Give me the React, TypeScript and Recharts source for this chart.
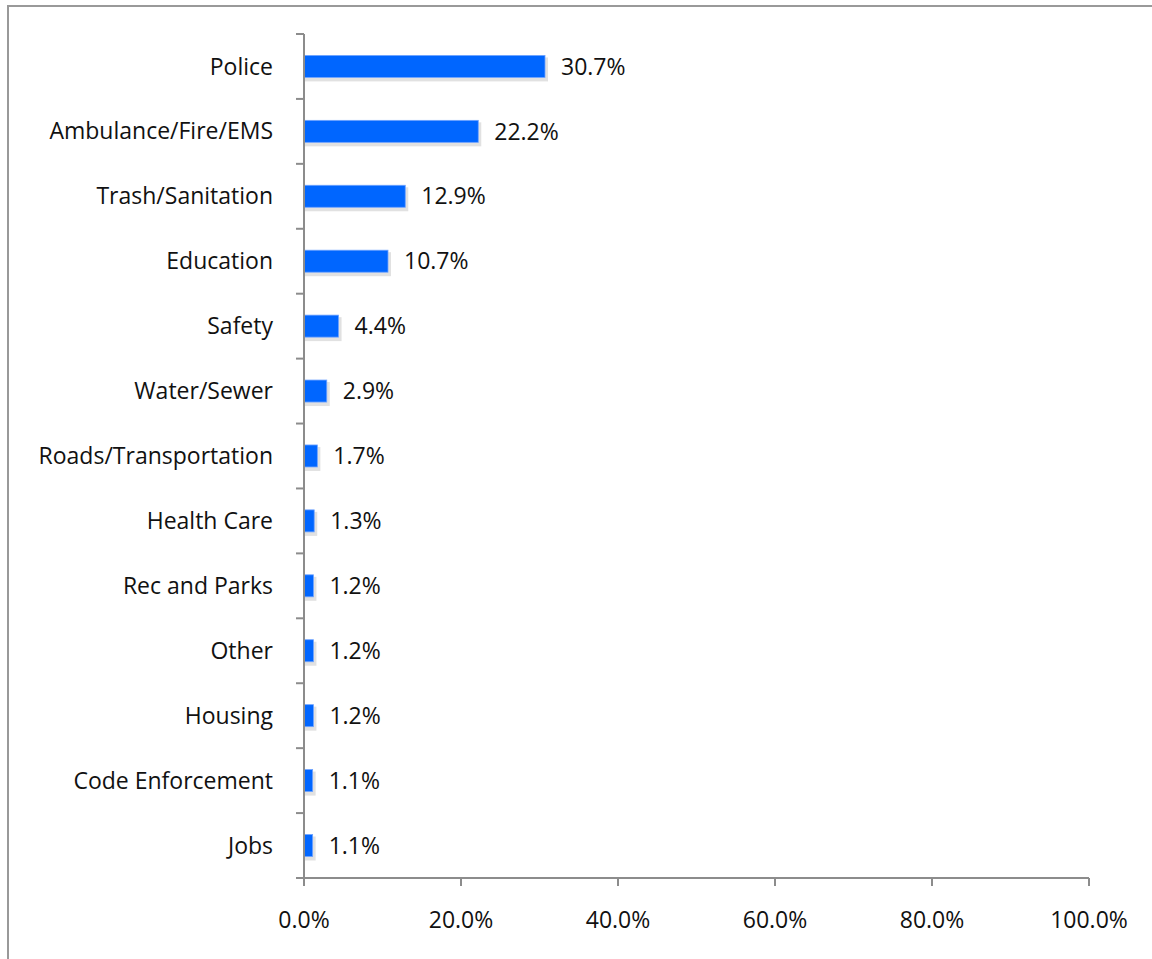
import React from 'react';
import { BarChart, Bar, XAxis, YAxis, LabelList } from 'recharts';

const categories = [
  'Police',
  'Ambulance/Fire/EMS',
  'Trash/Sanitation',
  'Education',
  'Safety',
  'Water/Sewer',
  'Roads/Transportation',
  'Health Care',
  'Rec and Parks',
  'Other',
  'Housing',
  'Code Enforcement',
  'Jobs',
];
const shares = [30.7, 22.2, 12.9, 10.7, 4.4, 2.9, 1.7, 1.3, 1.2, 1.2, 1.2, 1.1, 1.1];
const xTicks = [0, 20, 40, 60, 80, 100];

const data = categories.map((name, i) => ({ name, value: shares[i] }));

const W = 1152;
const H = 959;
const M = { top: 34, right: 63, bottom: 31, left: 0 };
const X_AXIS_H = 50;
const BAND = (H - M.top - M.bottom - X_AXIS_H) / categories.length;
const FONT = '"Open Sans", sans-serif';
const AXIS = '#8c8c8c';

// category names plus the between-category tick marks Excel draws
function CategoryTick(props: any) {
  const { x, y, payload, index } = props;
  const ax = x + 8;
  return (
    <g>
      {index === 0 && <line x1={ax - 8} x2={ax} y1={y - BAND / 2} y2={y - BAND / 2} stroke={AXIS} strokeWidth={2} />}
      <line x1={ax - 8} x2={ax} y1={y + BAND / 2} y2={y + BAND / 2} stroke={AXIS} strokeWidth={2} />
      <text x={ax - 31} y={y} dy="0.35em" textAnchor="end" fill="#111" fontSize={23} fontFamily={FONT}>
        {payload.value}
      </text>
    </g>
  );
}

function ShadowBar(props: any) {
  const { x, y, width, height } = props;
  if (width <= 0) return null;
  return (
    <g>
      <rect x={x + 1} y={y + 2} width={width + 2} height={height + 2} fill="#d4d4d4" opacity={0.7} />
      <rect x={x} y={y} width={width} height={height} fill="#0066ff" stroke="#6fa3ff" strokeWidth={0.8} />
    </g>
  );
}

export default function App() {
  return (
    <div style={{ position: 'absolute', left: 0, top: 0, width: W, height: H, background: '#fff' }}>
      <div
        style={{
          position: 'absolute',
          left: 7,
          top: 5,
          width: W,
          height: H,
          border: '2px solid #999',
          boxSizing: 'border-box',
        }}
      />
      <div style={{ position: 'absolute', left: 0, top: 0 }}>
        <BarChart width={W} height={H} data={data} layout="vertical" margin={M} barCategoryGap="33%">
          <XAxis
            type="number"
            domain={[0, 100]}
            ticks={xTicks}
            tickFormatter={(v: number) => `${v.toFixed(1)}%`}
            height={X_AXIS_H}
            axisLine={{ stroke: AXIS, strokeWidth: 2 }}
            tickLine={{ stroke: AXIS, strokeWidth: 2 }}
            tickSize={8}
            tick={{ fill: '#111', fontSize: 23, fontFamily: FONT, dy: 24 }}
          />
          <YAxis
            type="category"
            dataKey="name"
            width={304}
            axisLine={{ stroke: AXIS, strokeWidth: 2 }}
            tickLine={false}
            tick={<CategoryTick />}
            interval={0}
          />
          <Bar dataKey="value" shape={<ShadowBar />} isAnimationActive={false}>
            <LabelList
              dataKey="value"
              position="right"
              offset={16}
              formatter={(v: number) => `${v.toFixed(1)}%`}
              fill="#111"
              fontSize={23}
              fontFamily={FONT}
            />
          </Bar>
        </BarChart>
      </div>
    </div>
  );
}
